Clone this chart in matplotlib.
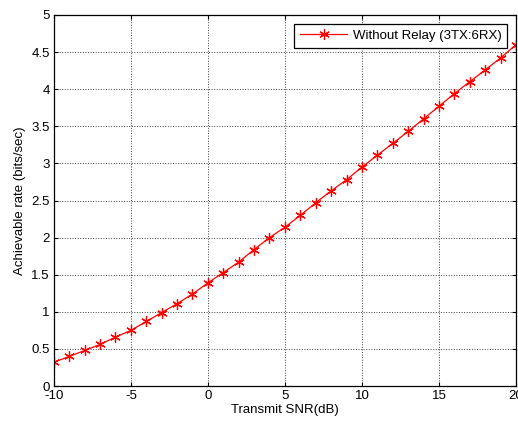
import matplotlib
matplotlib.use("Agg")
import matplotlib.pyplot as plt

plt.rcParams["font.family"] = ["Liberation Sans", "DejaVu Sans"]

snr_db = list(range(-10, 21))
rate = [0.32, 0.40, 0.48, 0.56, 0.66, 0.75, 0.87, 0.99, 1.11, 1.24,
        1.39, 1.53, 1.67, 1.84, 2.00, 2.14, 2.30, 2.47, 2.63, 2.78,
        2.95, 3.11, 3.27, 3.43, 3.60, 3.77, 3.94, 4.10, 4.26, 4.42, 4.60]
xticks = [-10, -5, 0, 5, 10, 15, 20]
yticks = [0, 0.5, 1, 1.5, 2, 2.5, 3, 3.5, 4, 4.5, 5]
yticklabels = ["0", "0.5", "1", "1.5", "2", "2.5", "3", "3.5", "4", "4.5", "5"]

fig = plt.figure(figsize=(5.18, 4.28), dpi=100)
ax = fig.add_axes([0.104, 0.098, 0.892, 0.867])

# MATLAB-style asterisk: 6-point line star
ax.plot(snr_db, rate, color="red", linewidth=0.9, marker=(6, 2, 0),
        markersize=7.5, markeredgewidth=0.9, label="Without Relay (3TX:6RX)")

ax.set_xlim(-10, 20)
ax.set_ylim(0, 5)
ax.set_xticks(xticks)
ax.set_xticklabels([str(t) for t in xticks])
ax.set_yticks(yticks)
ax.set_yticklabels(yticklabels)
ax.grid(True, color="#404040", linestyle=":", linewidth=0.7)
ax.tick_params(direction="in", length=3, width=0.8, labelsize=9.5,
               top=True, right=True, pad=3)
for s in ax.spines.values():
    s.set_linewidth(0.9)

ax.set_xlabel("Transmit SNR(dB)", fontsize=9.5, labelpad=1)
ax.set_ylabel("Achievable rate (bits/sec)", fontsize=9.5, labelpad=4)

leg = ax.legend(loc="upper right", fontsize=9.5, fancybox=False,
                framealpha=1, edgecolor="black", borderpad=0.45,
                handlelength=3.6, handletextpad=0.4, borderaxespad=0.65)
leg.get_frame().set_linewidth(0.9)

fig.savefig("out.png", dpi=100)
